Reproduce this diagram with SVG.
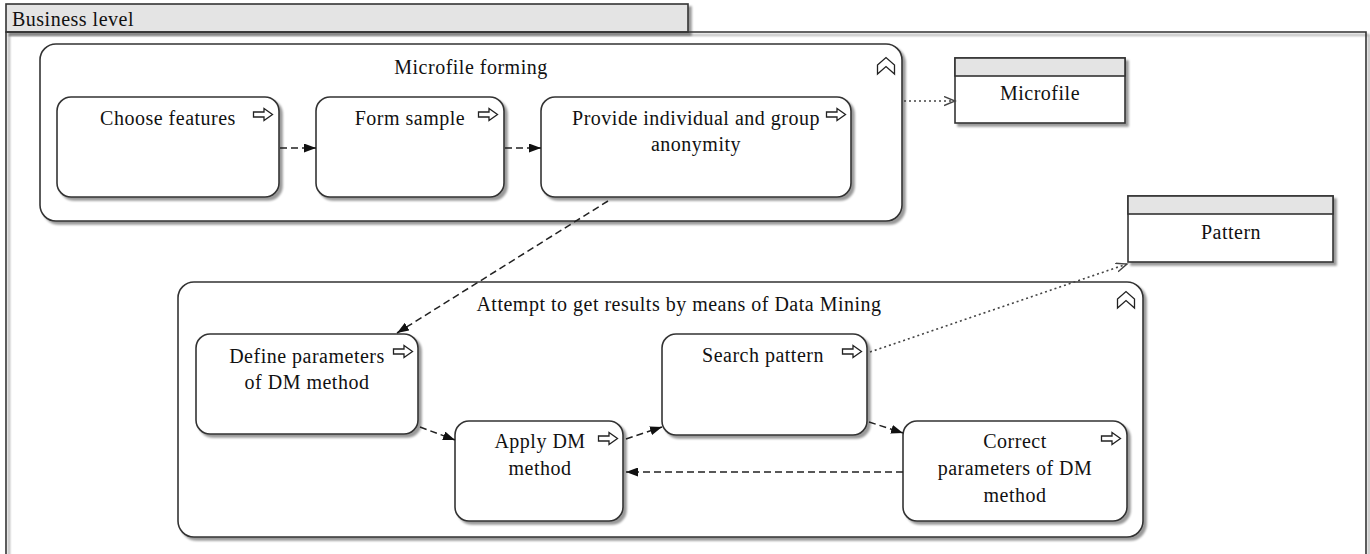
<svg xmlns="http://www.w3.org/2000/svg" width="1370" height="554" viewBox="0 0 1370 554" font-family="'Liberation Serif', 'DejaVu Serif', 'Times New Roman', serif">
  <defs>
    <style>
      .lbl { font-family: "Liberation Serif", "DejaVu Serif", "Times New Roman", serif; font-size: 20px; letter-spacing: 0.5px; fill: #111; text-anchor: middle; }
      .box { fill: #fff; stroke: #333; stroke-width: 1.6; filter: url(#shadow); }
      .hdr { fill: #e4e4e4; stroke: #333; stroke-width: 1.6; }
      .icon { fill: #fff; stroke: #222; stroke-width: 1.3; stroke-linejoin: miter; }
      .flow { fill: none; stroke: #222; stroke-width: 1.5; stroke-dasharray: 7 4; marker-end: url(#solidHead); }
      .assoc { fill: none; stroke: #444; stroke-width: 1.6; stroke-dasharray: 2 3; marker-end: url(#openHead); }
    </style>
    <filter id="shadow" x="-5%" y="-5%" width="115%" height="120%">
      <feDropShadow dx="3" dy="3" stdDeviation="1.2" flood-color="#000" flood-opacity="0.4"/>
    </filter>
    <marker id="solidHead" markerUnits="userSpaceOnUse" markerWidth="13" markerHeight="9" refX="12" refY="4.5" orient="auto">
      <path d="M0,0 L12,4.5 L0,9 z" fill="#111"/>
    </marker>
    <marker id="openHead" markerUnits="userSpaceOnUse" markerWidth="13" markerHeight="11" refX="11" refY="5" orient="auto">
      <path d="M0,0.5 L11,5 L0,9.5" fill="none" stroke="#444" stroke-width="1.4"/>
    </marker>
    <!-- hollow right arrow shown in each activity corner -->
    <path id="goArrow" class="icon" d="M0.5,4 H11 V0.5 L19.5,6.5 L11,12.5 V9 H0.5 z"/>
    <!-- collapse glyph of the sub-process containers -->
    <path id="collapse" class="icon" d="M0.5,8 L9,0.5 L17.5,8 V17 L9,9.5 L0.5,17 z"/>
  </defs>

  <!-- outer frame with its title tab -->
  <g id="business-level">
    <rect x="6" y="4" width="682" height="28" class="hdr" filter="url(#shadow)"/>
    <path d="M6,554 V32 H1366 V554" fill="none" stroke="#333" stroke-width="1.6" filter="url(#shadow)"/>
    <text x="12" y="26" class="lbl" style="text-anchor:start">Business level</text>
  </g>

  <!-- sub-process: Microfile forming -->
  <g id="microfile-forming">
    <rect x="40" y="44" width="862" height="177" rx="16" class="box"/>
    <text x="471" y="74" class="lbl">Microfile forming</text>
    <use href="#collapse" x="877" y="57"/>
  </g>

  <g id="choose-features">
    <rect x="57" y="97" width="222" height="100" rx="14" class="box"/>
    <text x="168" y="125" class="lbl">Choose features</text>
    <use href="#goArrow" x="253" y="108"/>
  </g>

  <g id="form-sample">
    <rect x="316" y="97" width="188" height="100" rx="14" class="box"/>
    <text x="410" y="125" class="lbl">Form sample</text>
    <use href="#goArrow" x="478" y="108"/>
  </g>

  <g id="provide-anonymity">
    <rect x="541" y="97" width="310" height="100" rx="14" class="box"/>
    <text x="696" y="125" class="lbl">Provide individual and group</text>
    <text x="696" y="151" class="lbl">anonymity</text>
    <use href="#goArrow" x="826" y="108"/>
  </g>

  <!-- data objects -->
  <g id="microfile">
    <rect x="955" y="58" width="170" height="65" class="box"/>
    <rect x="955" y="58" width="170" height="18" class="hdr"/>
    <text x="1040" y="100" class="lbl">Microfile</text>
  </g>

  <g id="pattern">
    <rect x="1128" y="196" width="205" height="66" class="box"/>
    <rect x="1128" y="196" width="205" height="18" class="hdr"/>
    <text x="1231" y="239" class="lbl">Pattern</text>
  </g>

  <!-- sub-process: Data Mining attempt -->
  <g id="data-mining-attempt">
    <rect x="178" y="282" width="965" height="255" rx="16" class="box"/>
    <text x="679" y="311" class="lbl">Attempt to get results by means of Data Mining</text>
    <use href="#collapse" x="1117" y="291"/>
  </g>

  <g id="define-parameters">
    <rect x="196" y="334" width="222" height="100" rx="14" class="box"/>
    <text x="307" y="363" class="lbl">Define parameters</text>
    <text x="307" y="389" class="lbl">of DM method</text>
    <use href="#goArrow" x="393" y="345"/>
  </g>

  <g id="search-pattern">
    <rect x="662" y="334" width="205" height="101" rx="14" class="box"/>
    <text x="763" y="362" class="lbl">Search pattern</text>
    <use href="#goArrow" x="842" y="345"/>
  </g>

  <g id="apply-method">
    <rect x="455" y="421" width="168" height="100" rx="14" class="box"/>
    <text x="540" y="448" class="lbl">Apply DM</text>
    <text x="540" y="475" class="lbl">method</text>
    <use href="#goArrow" x="598" y="432"/>
  </g>

  <g id="correct-parameters">
    <rect x="903" y="421" width="224" height="100" rx="14" class="box"/>
    <text x="1015" y="448" class="lbl">Correct</text>
    <text x="1015" y="475" class="lbl">parameters of DM</text>
    <text x="1015" y="502" class="lbl">method</text>
    <use href="#goArrow" x="1101" y="432"/>
  </g>

  <!-- connectors -->
  <g id="connectors">
    <path class="flow" d="M280,148 H316"/>
    <path class="flow" d="M505,148 H541"/>
    <path class="flow" d="M608,201 L397,333"/>
    <path class="flow" d="M420,427 L455,440"/>
    <path class="flow" d="M626,439 L662,427"/>
    <path class="flow" d="M869,422 L903,433"/>
    <path class="flow" d="M903,472 H626"/>
    <path class="assoc" d="M904,101 H955"/>
    <path class="assoc" d="M870,352 L1127,264"/>
  </g>
</svg>
